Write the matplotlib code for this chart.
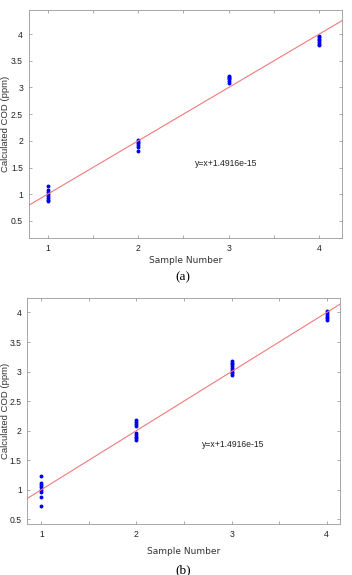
import matplotlib.pyplot as plt
from matplotlib.ticker import MultipleLocator
import numpy as np

# calculated COD values per sample, panel (a) and panel (b)
samples = [1, 2, 3, 4]
cod_a = [
    [1.15, 1.08, 1.05, 1.00, 0.97, 0.93, 0.90, 0.88],
    [2.01, 1.98, 1.95, 1.92, 1.89, 1.80],
    [3.22, 3.19, 3.17, 3.15, 3.12, 3.09],
    [3.97, 3.94, 3.91, 3.88, 3.85, 3.82, 3.79],
]
cod_b = [
    [1.23, 1.12, 1.08, 1.04, 1.00, 0.96, 0.87, 0.73],
    [2.18, 2.14, 2.11, 2.08, 1.96, 1.93, 1.90, 1.87, 1.85],
    [3.18, 3.15, 3.12, 3.09, 3.06, 3.03, 3.00, 2.97, 2.94],
    [4.02, 3.99, 3.96, 3.93, 3.90, 3.87],
]
fit_label = 'y=x+1.4916e-15'
yticks = [0.5, 1, 1.5, 2, 2.5, 3, 3.5, 4]

fig = plt.figure(figsize=(3.52, 5.75), dpi=100)
W, H = 352, 575

# axes boxes in pixels: left, top, right, bottom
panels = [
    dict(box=(28.5, 10, 342, 238), xlim=(0.79, 4.25), ylim=(0.18, 4.45), data=cod_a,
         txt=(2.63, 1.57), tag='(a)', tag_y=277, xl_y=260),
    dict(box=(27.3, 297.7, 340, 524.3), xlim=(0.853, 4.14), ylim=(0.415, 4.25), data=cod_b,
         txt=(2.69, 1.77), tag='(b)', tag_y=570, xl_y=551),
]

for p in panels:
    l, t, r, b = p['box']
    ax = fig.add_axes([l / W, 1 - b / H, (r - l) / W, (b - t) / H])
    for s, vals in zip(samples, p['data']):
        ax.plot([s] * len(vals), vals, 'o', color='#0000ee', markersize=2.8,
                markeredgewidth=0)
    xx = np.array(p['xlim'])
    ax.plot(xx, xx + 1.4916e-15, color='#f07a7a', linewidth=0.8)
    ax.text(p['txt'][0], p['txt'][1], fit_label, fontsize=6.2, family='Liberation Sans',
            va='center', color='#222222')
    ax.set_xlim(*p['xlim'])
    ax.set_ylim(*p['ylim'])
    ax.set_xticks(samples)
    ax.xaxis.set_minor_locator(MultipleLocator(0.5))
    ax.set_yticks(yticks)
    ax.set_yticklabels([f'{v:g}' for v in yticks])
    ax.tick_params(which='both', direction='in', top=True, right=True,
                   length=2.5, width=0.5, color='#888888',
                   labelsize=6.2, labelcolor='#222222', pad=4)
    for lab in ax.get_xticklabels() + ax.get_yticklabels():
        lab.set_family('Liberation Sans')
    for spine in ax.spines.values():
        spine.set_linewidth(0.6)
        spine.set_color('#999999')
    fig.text(5.5 / W, 1 - (t + b) / 2 / H, 'Calculated COD (ppm)', fontsize=6.8,
             family='Liberation Sans', color='#333333', rotation=90,
             ha='center', va='center')
    fig.text((l + r) / 2 / W, 1 - p['xl_y'] / H, 'Sample Number', fontsize=6.5,
             family='DejaVu Sans', color='#333333', ha='center', va='center')
    fig.text(183 / W, 1 - p['tag_y'] / H, p['tag'], fontsize=9.5,
             family='Liberation Serif', ha='center', va='center')

plt.savefig('out.png', dpi=100)
